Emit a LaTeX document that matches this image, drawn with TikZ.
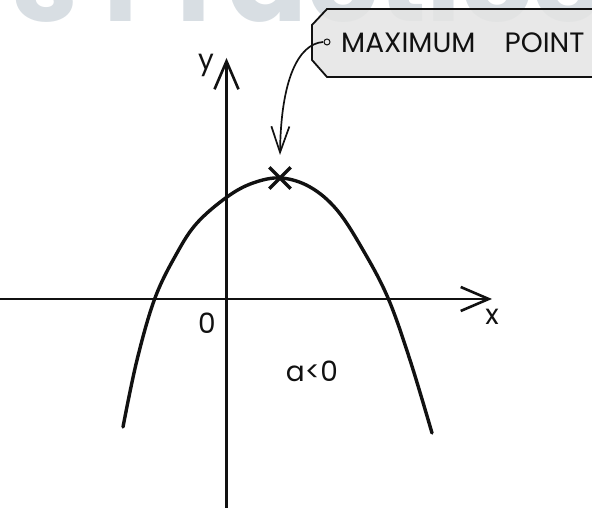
\documentclass[tikz,border=0pt]{standalone}
\usepackage{fontspec}
\setmainfont{Poppins}
\usepackage{tikz}
\usetikzlibrary{arrows.meta, positioning, shapes.misc}
\definecolor{wmGrey}{HTML}{D8DEE3}
\definecolor{tagGrey}{HTML}{E4E4E4}
\definecolor{inkDark}{HTML}{111111}

\begin{document}
\begin{tikzpicture}[x=1pt, y=1pt,
    axis/.style={draw=inkDark, line width=2.4pt,
                 -{Straight Barb[length=28pt, width=24pt, line width=2.6pt]}},
    curve/.style={draw=inkDark, line width=3.4pt, line cap=round},
    lbl/.style={font=\fontsize{28}{28}\selectfont, text=inkDark, inner sep=0pt},
    tagbox/.style={draw=inkDark, line width=1.8pt, fill=tagGrey, fill opacity=0.85},
    pointer/.style={draw=inkDark, line width=1.7pt,
                    -{Straight Barb[length=26pt, width=18pt, line width=1.7pt]}},
  ]
    \useasboundingbox (0,0) rectangle (592,508);

    % Watermark
    \node[anchor=base west, text=wmGrey, inner sep=0pt,
          font=\fontsize{118}{118}\selectfont\bfseries] (wmark) at (12,486) {s Practice};

    % Axes
    \coordinate (O) at (226.5,209);
    \coordinate (xstart) at (0,209);
    \coordinate (xend) at (492,209);
    \coordinate (ystart) at (226.5,0);
    \coordinate (yend) at (226.5,450);
    \draw[axis] (xstart) -- (xend);
    \draw[axis] (ystart) -- (yend);
    \node[lbl] (xlab) at (492,191) {x};
    \node[lbl] (ylab) at (206,443) {y};
    \node[lbl] (zero) at (207,185) {0};
    \node[lbl] (cond) at (312,137) {a<0};

    % Parabola
    \draw[curve] plot[smooth, tension=0.6] coordinates {
      (123,81) (137,148) (155,210) (177,255) (197,285) (227,311) (253,325)
      (281,330) (310,321) (337,298) (363,258) (388,210) (410,148) (432,75)};

    % Maximum point
    \node[cross out, draw=inkDark, line width=3.4pt, minimum size=18pt,
          inner sep=0pt] (maxpt) at (280,330) {};

    % Tag
    \draw[tagbox] (600,499) -- (327,499) -- (312,483) -- (312,448)
      -- (327,431) -- (600,431);
    \coordinate (hole) at (327,466);
    \draw[inkDark, line width=1pt] (hole) circle (3pt);
    \node[lbl, anchor=west] (tagtext) at (341,465) {MAXIMUM\hspace{29pt}POINT};

    % Pointer
    \coordinate (tip) at (280,353);
    \draw[pointer] (hole) ++(-4,0) .. controls (298,464) and (281,428) .. (tip);
  \end{tikzpicture}
\end{document}
